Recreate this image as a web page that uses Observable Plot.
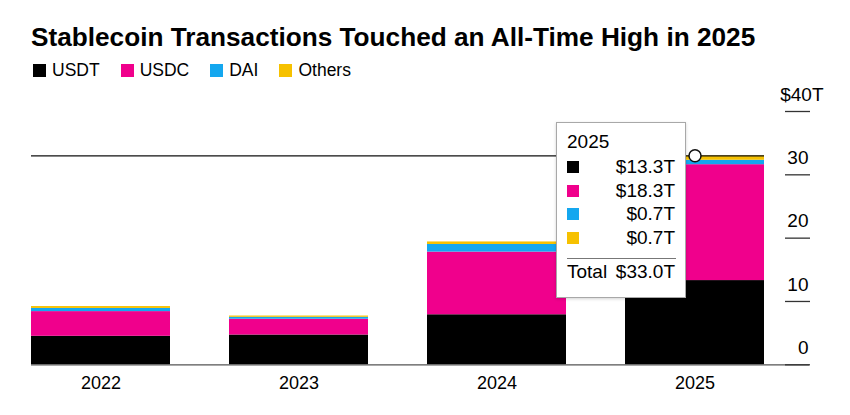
<!DOCTYPE html>
<html>
<head>
<meta charset="utf-8">
<script src="https://cdn.jsdelivr.net/npm/d3@7"></script>
<script src="https://cdn.jsdelivr.net/npm/@observablehq/plot@0.6"></script>
<style>
  html, body { margin: 0; padding: 0; background: #fff; }
  #wrap { position: relative; width: 850px; height: 415px; overflow: hidden; font-family: "Liberation Sans", Arial, Helvetica, sans-serif; color: #000; }
  #title { padding: 22px 0 0 31px; height: 30px; line-height: 30px; font-size: 26.2px; font-weight: bold; white-space: nowrap; letter-spacing: 0px; }
  #legend { margin-top: 8px; height: 20px; display: flex; align-items: center; padding-left: 33px; font-size: 17.5px; line-height: 20px; }
  .li { display: flex; align-items: center; margin-right: 21px; }
  .sw { width: 13px; height: 13px; margin-right: 6px; }
  #chart { margin-top: 5px; height: 330px; }
  #tip { position: absolute; left: 556px; top: 122px; width: 128px; height: 174px; border: 1px solid #a8a8a8; background: #fff; box-shadow: 0 1px 3px rgba(0,0,0,0.18); font-size: 19px; box-sizing: content-box; }
  #tip .yr { position: absolute; left: 10px; top: 7px; height: 24px; line-height: 24px; }
  #tip .row { position: absolute; left: 10px; width: 108px; height: 24px; line-height: 24px; display: flex; align-items: center; justify-content: space-between; }
  #tip .sq { width: 12px; height: 12px; }
  #tip .sep { position: absolute; left: 10px; width: 109px; top: 135px; border-top: 1px solid #777; }
</style>
</head>
<body>
<div id="wrap">
  <div id="title"></div>
  <div id="legend"></div>
  <div id="chart"></div>
  <div id="tip"></div>
</div>
<script>
// ---- data ----
const titleText = "Stablecoin Transactions Touched an All-Time High in 2025";
const years = ["2022", "2023", "2024", "2025"];
const coins = ["USDT", "USDC", "DAI", "Others"];
const colors = ["#000000", "#f0008c", "#14a7ef", "#f6c100"];
const usdt   = [4.5, 4.7, 7.9, 13.3];
const usdc   = [3.9, 2.5, 9.9, 18.3];
const dai    = [0.5, 0.3, 1.2, 0.7];
const others = [0.3, 0.2, 0.4, 0.7];
const yTicks = [0, 10, 20, 30, 40];
const hoverYear = "2025";

// ---- build table ----
const series = [usdt, usdc, dai, others];
const table = [];
years.forEach((yr, i) => coins.forEach((c, j) => table.push({year: yr, coin: c, value: series[j][i]})));
const hi = years.indexOf(hoverYear);
const hoverVals = series.map(s => s[hi]);
const hoverTotal = d3.sum(hoverVals);

const FONT = '"Liberation Sans", Arial, Helvetica, sans-serif';

// title + legend
document.getElementById("title").textContent = titleText;
const leg = document.getElementById("legend");
coins.forEach((c, j) => {
  const it = document.createElement("div"); it.className = "li";
  const sw = document.createElement("div"); sw.className = "sw"; sw.style.background = colors[j];
  const tx = document.createElement("span"); tx.textContent = c;
  it.appendChild(sw); it.appendChild(tx); leg.appendChild(it);
});

// chart
const chart = Plot.plot({
  width: 850,
  height: 330,
  marginLeft: 31,
  marginRight: 86,
  marginTop: 26,
  marginBottom: 50.7,
  x: {domain: years, paddingInner: 0.3, paddingOuter: 0},
  y: {domain: [0, 40]},
  color: {domain: coins, range: colors},
  style: {fontFamily: FONT, fontSize: "18px", color: "#000", overflow: "visible", background: "transparent"},
  marks: [
    Plot.barY(table, {x: "year", y: "value", fill: "coin", order: coins}),
    Plot.ruleY([0], {stroke: "#555", strokeWidth: 1.3, insetRight: -45}),
    Plot.axisY(yTicks, {anchor: "right", tickSize: 25, dx: 20, tickFormat: () => "", stroke: "#333", strokeWidth: 1.3, label: null}),
    Plot.axisY(yTicks.filter(d => d < 40), {anchor: "right", tickSize: 0, tickPadding: 0, dx: 44, dy: -17, textAnchor: "end", fontSize: 19, fill: "#000", label: null}),
    Plot.axisY(yTicks.filter(d => d === 40), {anchor: "right", tickSize: 0, tickPadding: 0, dx: 59, dy: -17, textAnchor: "end", fontSize: 19, fill: "#000", tickFormat: d => `$${d}T`, label: null}),
    Plot.axisX({tickSize: 0, tickPadding: 11, fontSize: 18, fill: "#000", label: null}),
    Plot.ruleY([hoverTotal], {stroke: "#111", strokeWidth: 1.2}),
    Plot.dot([{year: hoverYear, v: hoverTotal}], {x: "year", y: "v", r: 6, fill: "#fff", stroke: "#111", strokeWidth: 1.5})
  ]
});
document.getElementById("chart").appendChild(chart);

// tooltip
const tip = document.getElementById("tip");
const fmt = v => "$" + d3.format(".1f")(v) + "T";
const yr = document.createElement("div"); yr.className = "yr"; yr.textContent = hoverYear; tip.appendChild(yr);
hoverVals.forEach((v, j) => {
  const r = document.createElement("div"); r.className = "row"; r.style.top = (32 + j * 23.7) + "px";
  const sq = document.createElement("div"); sq.className = "sq"; sq.style.background = colors[j];
  const t = document.createElement("span"); t.textContent = fmt(v);
  r.appendChild(sq); r.appendChild(t); tip.appendChild(r);
});
const sep = document.createElement("div"); sep.className = "sep"; tip.appendChild(sep);
const tot = document.createElement("div"); tot.className = "row"; tot.style.top = "137px";
const tl = document.createElement("span"); tl.textContent = "Total";
const tv = document.createElement("span"); tv.textContent = fmt(hoverTotal);
tot.appendChild(tl); tot.appendChild(tv); tip.appendChild(tot);
</script>
</body>
</html>
